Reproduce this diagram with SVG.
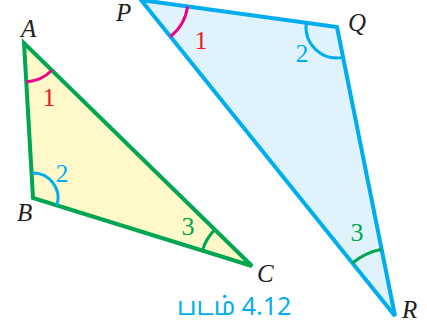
<svg xmlns="http://www.w3.org/2000/svg" width="427" height="328" viewBox="0 0 427 328">
<style>
.tri{stroke-width:4;stroke-linejoin:miter}
.abc{fill:#FFF9C9;stroke:#00A651}
.pqr{fill:#E0F3FC;stroke:#00AEEF}
.arc{fill:none;stroke-width:3}
.mag{stroke:#EC008C}
.cy{stroke:#00AEEF}
.gr{stroke:#00A651}
.lbl{font-family:"Liberation Serif",serif;font-style:italic;font-size:25px;fill:#231F20}
.num{font-family:"Liberation Serif",serif;font-size:26px;text-anchor:middle}
.r{fill:#ED1C24}
.b{fill:#00AEEF}
.g{fill:#00A651}
.cap{font-family:"Noto Sans Tamil","Noto Sans","DejaVu Sans",sans-serif;font-size:25px;fill:#00AEEF}
</style>
<rect width="427" height="328" fill="#FFFFFF"/>
<g id="triangle-ABC">
<polygon class="tri abc" points="24,43 33,198 252,266"/>
<path class="arc mag" d="M 26.3 81.9 A 39 39 0 0 0 51.9 70.3"/>
<path class="arc cy" d="M 31.5 173 A 25 25 0 0 1 56.9 205.4"/>
<path class="arc gr" d="M 202.3 250.6 A 52 52 0 0 1 214.8 229.6"/>
<text class="lbl" x="21" y="37">A</text>
<text class="lbl" x="17" y="221">B</text>
<text class="lbl" x="257" y="282">C</text>
<text class="num r" x="49" y="106">1</text>
<text class="num b" x="62" y="182">2</text>
<text class="num g" x="188" y="235">3</text>
</g>
<g id="triangle-PQR">
<polygon class="tri pqr" points="141,0 337,27 395,316"/>
<path class="arc mag" d="M 187.6 6.4 A 47 47 0 0 1 170.4 36.6"/>
<path class="arc cy" d="M 306.3 22.8 A 31 31 0 0 0 343.1 57.4"/>
<path class="arc gr" d="M 352.4 263 A 68 68 0 0 1 381.6 249.3"/>
<text class="lbl" x="116" y="21">P</text>
<text class="lbl" x="348" y="31">Q</text>
<text class="lbl" x="402" y="318">R</text>
<text class="num r" x="201" y="49">1</text>
<text class="num b" x="302" y="62">2</text>
<text class="num g" x="357" y="241">3</text>
</g>
<g id="connectors"/>
<text id="caption" class="cap" x="177" y="315">படம் 4.12</text>
</svg>
